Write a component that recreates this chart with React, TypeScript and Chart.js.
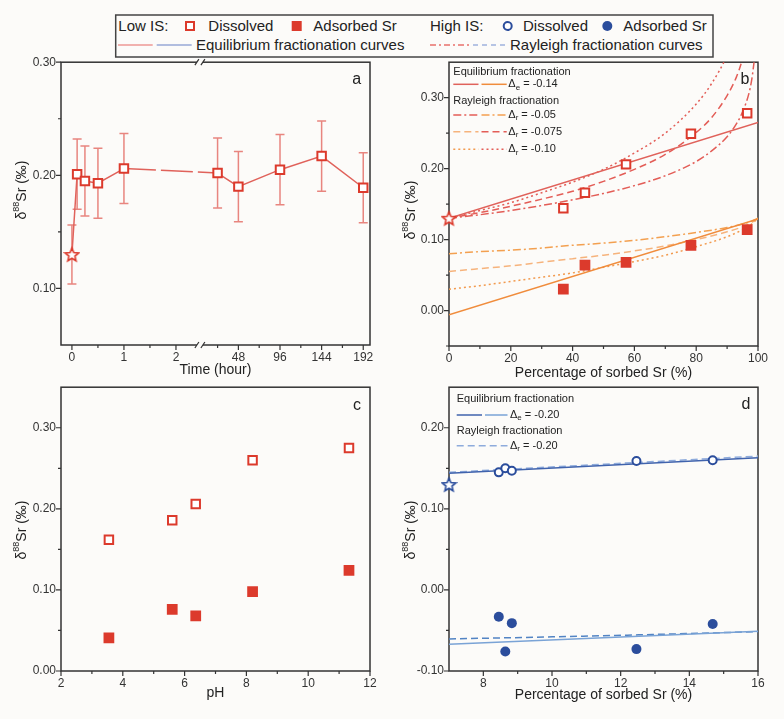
import React, { useEffect, useRef } from 'react';
import { Chart, registerables } from 'chart.js';

Chart.register(...registerables);

// ---------------- data: panel a (time series, low IS) ----------------
const timeHours = [0.1, 0.25, 0.5, 1, 24, 48, 96, 144, 192];
const timeDissolved = [0.201, 0.195, 0.193, 0.206, 0.202, 0.19, 0.205, 0.217, 0.189];
const timeErrors = [0.031, 0.031, 0.031, 0.031, 0.031, 0.031, 0.031, 0.031, 0.031];
const initialDelta = 0.13;
const initialError = 0.026;
const timeTickHours = [0, 1, 2, 48, 96, 144, 192];
const timeTickLabels = ['0', '1', '2', '48', '96', '144', '192'];
const timeMinorHours = [0.5, 1.5, 24, 72, 120, 168];

// ---------------- data: panel b (low IS vs % sorbed) ----------------
const sorbedPctB = [37.0, 44.0, 57.3, 78.3, 96.5];
const dissolvedLowIS = [0.144, 0.166, 0.206, 0.249, 0.278];
const adsorbedLowIS = [0.03, 0.064, 0.068, 0.092, 0.114];
const eqX = [0, 100];
const eqDissolvedB = [0.13, 0.265];
const eqAdsorbedB = [-0.006, 0.129];
const rayDissX = [0, 10, 20, 30, 40, 50, 60, 70, 80, 85, 90, 93, 95, 97, 98, 99];
const rayDiss005 = [0.13, 0.135, 0.141, 0.148, 0.156, 0.165, 0.176, 0.19, 0.21, 0.225, 0.245, 0.263, 0.28, 0.305, 0.326, 0.36];
const rayDiss0075 = [0.13, 0.138, 0.147, 0.157, 0.168, 0.182, 0.199, 0.22, 0.251, 0.272, 0.303, 0.329, 0.355, 0.393, 0.423, 0.475];
const rayDiss010 = [0.13, 0.141, 0.152, 0.166, 0.181, 0.199, 0.222, 0.25, 0.291, 0.32, 0.36, 0.396, 0.43, 0.481, 0.521, 0.591];
const rayAdsX = [0, 10, 20, 30, 40, 50, 60, 70, 80, 90, 95, 98, 100];
const rayAds005 = [0.08, 0.083, 0.085, 0.088, 0.092, 0.095, 0.099, 0.104, 0.11, 0.117, 0.122, 0.126, 0.13];
const rayAds0075 = [0.055, 0.059, 0.063, 0.068, 0.073, 0.078, 0.084, 0.091, 0.1, 0.111, 0.118, 0.124, 0.13];
const rayAds010 = [0.03, 0.035, 0.041, 0.047, 0.053, 0.061, 0.069, 0.078, 0.09, 0.104, 0.114, 0.122, 0.13];

// ---------------- data: panel c (pH) ----------------
const phValues = [3.55, 5.6, 6.36, 8.2, 11.32];
const phDissolved = [0.162, 0.186, 0.206, 0.26, 0.275];
const phAdsorbed = [0.041, 0.076, 0.068, 0.098, 0.124];

// ---------------- data: panel d (high IS) ----------------
const sorbedPctD = [8.45, 8.64, 8.83, 12.46, 14.68];
const dissolvedHighIS = [0.145, 0.15, 0.147, 0.159, 0.16];
const adsorbedHighIS = [-0.033, -0.076, -0.041, -0.073, -0.042];
const initialPctD = 7;
const eqXD = [7, 16];
const eqDissolvedD = [0.144, 0.163];
const eqAdsorbedD = [-0.067, -0.051];
const rayXD = [7, 11.5, 16];
const rayDissolvedD = [0.145, 0.155, 0.165];
const rayAdsorbedD = [-0.0605, -0.0565, -0.0515];

// ---------------- styling ----------------
const FONT = '"Liberation Sans", Arial, Helvetica, sans-serif';
const BG = '#fcfbf9';
const AXIS = '#333333';
const TICK_COLOR = '#333333';
const RED = '#dc3a2c';
const RED_LINE = '#e0625b';
const RED_ERR = '#e8857f';
const RED_RAY = '#e35d57';
const ORANGE = '#f08c3c';
const ORANGE_DD = '#f3a050';
const ORANGE_DA = '#f6b37c';
const ORANGE_DOT = '#f29a4e';
const BLUE = '#2b4d9c';
const BLUE_EQ1 = '#4063ad';
const BLUE_EQ2 = '#7aa3d6';
const BLUE_RAY1 = '#8eabdc';
const BLUE_RAY2 = '#5284c4';

const DASHDOT = [8, 3, 2, 3];
const DASHED = [7, 4];
const DOTTED = [2, 3];

// x position on the broken time axis
const toAxis = (t: number) => (t <= 2 ? t : 3.2 + (t - 48) / 60);

type LegendRow =
  | { kind: 'text'; y: number; text: string }
  | {
      kind: 'sample';
      y: number;
      segs: { x0: number; x1: number; color: string; dash: number[] }[];
      labelX: number;
      sub: string;
      value: string;
    };

interface Decor {
  xMinor: number[];
  yMinor: number[];
  xTitle: string;
  xTitleY: number;
  yTitleX: number;
  yTitleY: number;
  letter: string;
  letterX: number;
  letterY: number;
  breakAt?: number;
  legend?: LegendRow[];
  legendX?: number;
  errors?: { datasetIndex: number; values: number[]; color: string };
}

function drawYTitle(ctx: CanvasRenderingContext2D, cx: number, cy: number) {
  ctx.save();
  ctx.translate(cx, cy);
  ctx.rotate(-Math.PI / 2);
  const big = `14px ${FONT}`;
  const small = `9px ${FONT}`;
  ctx.font = big;
  const w1 = ctx.measureText('δ').width;
  const w3 = ctx.measureText('Sr (‰)').width;
  ctx.font = small;
  const w2 = ctx.measureText('88').width;
  let x = -(w1 + w2 + w3) / 2;
  ctx.fillStyle = '#222';
  ctx.textBaseline = 'middle';
  ctx.textAlign = 'left';
  ctx.font = big;
  ctx.fillText('δ', x, 0);
  x += w1;
  ctx.font = small;
  ctx.fillText('88', x, -5);
  x += w2;
  ctx.font = big;
  ctx.fillText('Sr (‰)', x, 0);
  ctx.restore();
}

function decorPlugin(d: Decor) {
  return {
    id: 'decor',
    beforeDatasetsDraw(chart: any) {
      const { ctx, chartArea: a, scales } = chart;
      const xs = scales.x;
      const ys = scales.y;
      ctx.save();
      ctx.strokeStyle = AXIS;
      ctx.lineWidth = 1.5;
      ctx.strokeRect(a.left, a.top, a.right - a.left, a.bottom - a.top);
      ctx.lineWidth = 1.2;
      ctx.beginPath();
      xs.ticks.forEach((t: any) => {
        const p = xs.getPixelForValue(t.value);
        ctx.moveTo(p, a.bottom);
        ctx.lineTo(p, a.bottom + 5);
      });
      d.xMinor.forEach((v) => {
        const p = xs.getPixelForValue(v);
        ctx.moveTo(p, a.bottom);
        ctx.lineTo(p, a.bottom + 3);
      });
      ys.ticks.forEach((t: any) => {
        const p = ys.getPixelForValue(t.value);
        ctx.moveTo(a.left, p);
        ctx.lineTo(a.left - 5, p);
      });
      d.yMinor.forEach((v) => {
        const p = ys.getPixelForValue(v);
        ctx.moveTo(a.left, p);
        ctx.lineTo(a.left - 3, p);
      });
      ctx.stroke();

      if (d.breakAt !== undefined) {
        const p = xs.getPixelForValue(d.breakAt);
        [a.top, a.bottom].forEach((yy: number) => {
          ctx.fillStyle = BG;
          ctx.fillRect(p - 3, yy - 2, 6, 4);
          ctx.strokeStyle = AXIS;
          ctx.lineWidth = 1.2;
          ctx.beginPath();
          ctx.moveTo(p - 5, yy + 3);
          ctx.lineTo(p - 1, yy - 3);
          ctx.moveTo(p + 1, yy + 3);
          ctx.lineTo(p + 5, yy - 3);
          ctx.stroke();
        });
      }

      if (d.errors) {
        const ds = chart.data.datasets[d.errors.datasetIndex];
        ctx.strokeStyle = d.errors.color;
        ctx.lineWidth = 1.5;
        ctx.beginPath();
        ds.data.forEach((pt: any, i: number) => {
          const e = d.errors!.values[i];
          const px = xs.getPixelForValue(pt.x);
          const y0 = ys.getPixelForValue(pt.y - e);
          const y1 = ys.getPixelForValue(pt.y + e);
          ctx.moveTo(px, y0);
          ctx.lineTo(px, y1);
          ctx.moveTo(px - 4.5, y0);
          ctx.lineTo(px + 4.5, y0);
          ctx.moveTo(px - 4.5, y1);
          ctx.lineTo(px + 4.5, y1);
        });
        ctx.stroke();
      }
      ctx.restore();
    },
    afterDraw(chart: any) {
      const { ctx, chartArea: a } = chart;
      ctx.save();
      ctx.fillStyle = '#222';
      ctx.textAlign = 'center';
      ctx.textBaseline = 'middle';
      ctx.font = `14px ${FONT}`;
      ctx.fillText(d.xTitle, (a.left + a.right) / 2, d.xTitleY);
      ctx.font = `16px ${FONT}`;
      ctx.fillText(d.letter, d.letterX, d.letterY);
      drawYTitle(ctx, d.yTitleX, d.yTitleY);

      if (d.legend) {
        const lx = d.legendX || 0;
        d.legend.forEach((row) => {
          if (row.kind === 'text') {
            ctx.font = `11px ${FONT}`;
            ctx.textAlign = 'left';
            ctx.fillStyle = '#222';
            ctx.fillText(row.text, lx, row.y);
          } else {
            ctx.lineWidth = 1.5;
            row.segs.forEach((s) => {
              ctx.strokeStyle = s.color;
              ctx.setLineDash(s.dash);
              ctx.beginPath();
              ctx.moveTo(s.x0, row.y);
              ctx.lineTo(s.x1, row.y);
              ctx.stroke();
            });
            ctx.setLineDash([]);
            ctx.fillStyle = '#222';
            ctx.textAlign = 'left';
            let x = row.labelX;
            ctx.font = `11px ${FONT}`;
            ctx.fillText('Δ', x, row.y);
            x += ctx.measureText('Δ').width;
            ctx.font = `8px ${FONT}`;
            ctx.fillText(row.sub, x, row.y + 3);
            x += ctx.measureText(row.sub).width;
            ctx.font = `11px ${FONT}`;
            ctx.fillText(row.value, x, row.y);
          }
        });
      }
      ctx.restore();
    },
  };
}

function linAxis(o: {
  min: number;
  max: number;
  ticks: number[];
  fmt: (v: number, i: number) => string;
  size: number;
  vertical: boolean;
  pad: number;
}) {
  return {
    type: 'linear' as const,
    min: o.min,
    max: o.max,
    grid: { display: false, drawTicks: false },
    border: { display: false },
    ticks: {
      color: TICK_COLOR,
      font: { family: FONT, size: 12 },
      padding: o.pad,
      autoSkip: false,
      maxRotation: 0,
      minRotation: 0,
      callback: (v: any, i: number) => o.fmt(Number(v), i),
    },
    afterBuildTicks: (s: any) => {
      s.ticks = o.ticks.map((v) => ({ value: v }));
    },
    afterFit: (s: any) => {
      if (o.vertical) s.width = o.size;
      else s.height = o.size;
    },
  };
}

const fmt2 = (v: number) => v.toFixed(2);
const fmt0 = (v: number) => String(Math.round(v));

function lineDs(xs: number[], ys: number[], color: string, dash: number[], width = 1.5) {
  return {
    data: xs.map((x, i) => ({ x, y: ys[i] })),
    showLine: true,
    borderColor: color,
    borderWidth: width,
    borderDash: dash,
    pointRadius: 0,
    fill: false,
    cubicInterpolationMode: 'monotone',
    order: 5,
  };
}

function markerDs(xs: number[], ys: number[], style: any, radius: number, fill: string, border: string, bw: number) {
  return {
    data: xs.map((x, i) => ({ x, y: ys[i] })),
    showLine: false,
    pointStyle: style,
    pointRadius: radius,
    pointBackgroundColor: fill,
    pointBorderColor: border,
    pointBorderWidth: bw,
    order: 1,
  };
}

function makeStar(color: string, size: number) {
  const c = document.createElement('canvas');
  c.width = size;
  c.height = size;
  const g = c.getContext('2d')!;
  const cx = size / 2;
  const cy = size / 2 + 0.6;
  const R = size / 2 - 1.5;
  const r = R * 0.45;
  g.beginPath();
  for (let i = 0; i < 10; i++) {
    const ang = -Math.PI / 2 + (i * Math.PI) / 5;
    const rad = i % 2 === 0 ? R : r;
    g.lineTo(cx + rad * Math.cos(ang), cy + rad * Math.sin(ang));
  }
  g.closePath();
  g.fillStyle = '#ffffff';
  g.fill();
  g.lineWidth = 1.6;
  g.strokeStyle = color;
  g.stroke();
  return c;
}

const baseOptions = (padding: any, scales: any) => ({
  responsive: false,
  animation: false as const,
  events: [] as any[],
  layout: { padding },
  plugins: { legend: { display: false }, tooltip: { enabled: false } },
  scales,
});

function buildA(): any {
  const star = makeStar(RED, 17);
  const pts = [{ x: toAxis(0), y: initialDelta }, ...timeHours.map((t, i) => ({ x: toAxis(t), y: timeDissolved[i] }))];
  const errs = [initialError, ...timeErrors];
  const styles: any[] = [star, ...timeHours.map(() => 'rect')];
  return {
    type: 'scatter',
    data: {
      datasets: [
        {
          data: pts,
          showLine: true,
          borderColor: RED_LINE,
          borderWidth: 1.5,
          pointStyle: styles,
          pointRadius: 6,
          pointBackgroundColor: '#ffffff',
          pointBorderColor: RED,
          pointBorderWidth: 2,
          segment: { borderDash: (c: any) => (c.p0DataIndex === 4 ? [32, 5] : undefined) },
        },
      ],
    },
    options: baseOptions(
      { top: 12, right: 20, bottom: 0, left: 0 },
      {
        x: linAxis({
          min: -0.21,
          max: 5.73,
          ticks: timeTickHours.map(toAxis),
          fmt: (_v, i) => timeTickLabels[i],
          size: 35,
          vertical: false,
          pad: 5,
        }),
        y: linAxis({ min: 0.05, max: 0.3, ticks: [0.1, 0.2, 0.3], fmt: fmt2, size: 61, vertical: true, pad: 5 }),
      }
    ),
    plugins: [
      decorPlugin({
        xMinor: timeMinorHours.map(toAxis),
        yMinor: [0.15, 0.25],
        xTitle: 'Time (hour)',
        xTitleY: 320.5,
        yTitleX: 22,
        yTitleY: 140,
        letter: 'a',
        letterX: 356.7,
        letterY: 30,
        breakAt: 2.46,
        errors: { datasetIndex: 0, values: errs, color: RED_ERR },
      }),
    ],
  };
}

function buildB(): any {
  const star = makeStar(RED, 17);
  return {
    type: 'scatter',
    data: {
      datasets: [
        { ...markerDs([0], [initialDelta], star, 8, '#fff', RED, 1), order: 0, clip: false },
        markerDs(sorbedPctB, dissolvedLowIS, 'rect', 6, '#ffffff', RED, 2),
        markerDs(sorbedPctB, adsorbedLowIS, 'rect', 7.6, RED, RED, 0),
        lineDs(eqX, eqDissolvedB, RED_LINE, []),
        lineDs(eqX, eqAdsorbedB, ORANGE, []),
        lineDs(rayDissX, rayDiss005, RED_RAY, DASHDOT),
        lineDs(rayDissX, rayDiss0075, RED_RAY, DASHED),
        lineDs(rayDissX, rayDiss010, RED_RAY, DOTTED),
        lineDs(rayAdsX, rayAds005, ORANGE_DD, DASHDOT),
        lineDs(rayAdsX, rayAds0075, ORANGE_DA, DASHED),
        lineDs(rayAdsX, rayAds010, ORANGE_DOT, DOTTED),
      ],
    },
    options: baseOptions(
      { top: 12, right: 26, bottom: 0, left: 0 },
      {
        x: linAxis({ min: 0, max: 100, ticks: [0, 20, 40, 60, 80, 100], fmt: fmt0, size: 34, vertical: false, pad: 5 }),
        y: linAxis({ min: -0.05, max: 0.35, ticks: [0, 0.1, 0.2, 0.3], fmt: fmt2, size: 59, vertical: true, pad: 5 }),
      }
    ),
    plugins: [
      decorPlugin({
        xMinor: [10, 30, 50, 70, 90],
        yMinor: [-0.05, 0.05, 0.15, 0.25],
        xTitle: 'Percentage of sorbed Sr (%)',
        xTitleY: 322.7,
        yTitleX: 21,
        yTitleY: 160,
        letter: 'b',
        letterX: 355,
        letterY: 30,
        legendX: 63.3,
        legend: [
          { kind: 'text', y: 21.7, text: 'Equilibrium fractionation' },
          {
            kind: 'sample',
            y: 34.3,
            segs: [
              { x0: 63.3, x1: 88.5, color: RED_LINE, dash: [] },
              { x0: 91.5, x1: 116.7, color: ORANGE, dash: [] },
            ],
            labelX: 118.3,
            sub: 'e',
            value: ' = -0.14',
          },
          { kind: 'text', y: 51, text: 'Rayleigh fractionation' },
          {
            kind: 'sample',
            y: 65,
            segs: [
              { x0: 63.3, x1: 88.5, color: RED_RAY, dash: DASHDOT },
              { x0: 91.5, x1: 116.7, color: ORANGE_DD, dash: DASHDOT },
            ],
            labelX: 118.3,
            sub: 'r',
            value: ' = -0.05',
          },
          {
            kind: 'sample',
            y: 81.7,
            segs: [
              { x0: 63.3, x1: 88.5, color: ORANGE_DA, dash: DASHED },
              { x0: 91.5, x1: 116.7, color: RED_RAY, dash: DASHED },
            ],
            labelX: 118.3,
            sub: 'r',
            value: ' = -0.075',
          },
          {
            kind: 'sample',
            y: 99.3,
            segs: [
              { x0: 63.3, x1: 88.5, color: ORANGE_DOT, dash: DOTTED },
              { x0: 91.5, x1: 116.7, color: RED_RAY, dash: DOTTED },
            ],
            labelX: 118.3,
            sub: 'r',
            value: ' = -0.10',
          },
        ],
      }),
    ],
  };
}

function buildC(): any {
  return {
    type: 'scatter',
    data: {
      datasets: [
        markerDs(phValues, phDissolved, 'rect', 6, '#ffffff', RED, 2),
        markerDs(phValues, phAdsorbed, 'rect', 7.6, RED, RED, 0),
      ],
    },
    options: baseOptions(
      { top: 12, right: 20, bottom: 0, left: 0 },
      {
        x: linAxis({ min: 2, max: 12, ticks: [2, 4, 6, 8, 10, 12], fmt: fmt0, size: 48, vertical: false, pad: 5 }),
        y: linAxis({ min: 0, max: 0.35, ticks: [0, 0.1, 0.2, 0.3], fmt: fmt2, size: 61, vertical: true, pad: 5 }),
      }
    ),
    plugins: [
      decorPlugin({
        xMinor: [3, 5, 7, 9, 11],
        yMinor: [0.05, 0.15, 0.25],
        xTitle: 'pH',
        xTitleY: 317.7,
        yTitleX: 22,
        yTitleY: 155,
        letter: 'c',
        letterX: 357,
        letterY: 31,
      }),
    ],
  };
}

function buildD(): any {
  const star = makeStar(BLUE, 17);
  return {
    type: 'scatter',
    data: {
      datasets: [
        { ...markerDs([initialPctD], [initialDelta], star, 8, '#fff', BLUE, 1), order: 0, clip: false },
        markerDs(sorbedPctD, dissolvedHighIS, 'circle', 4, '#ffffff', BLUE, 2),
        markerDs(sorbedPctD, adsorbedHighIS, 'circle', 5, BLUE, BLUE, 0),
        lineDs(eqXD, eqDissolvedD, BLUE_EQ1, []),
        lineDs(rayXD, rayDissolvedD, BLUE_RAY1, DASHED),
        lineDs(eqXD, eqAdsorbedD, BLUE_EQ2, []),
        lineDs(rayXD, rayAdsorbedD, BLUE_RAY2, DASHED),
      ],
    },
    options: baseOptions(
      { top: 12, right: 26, bottom: 0, left: 0 },
      {
        x: linAxis({ min: 7, max: 16, ticks: [8, 10, 12, 14, 16], fmt: fmt0, size: 48, vertical: false, pad: 5 }),
        y: linAxis({ min: -0.1, max: 0.25, ticks: [-0.1, 0, 0.1, 0.2], fmt: fmt2, size: 59, vertical: true, pad: 5 }),
      }
    ),
    plugins: [
      decorPlugin({
        xMinor: [9, 11, 13, 15],
        yMinor: [-0.05, 0.05, 0.15],
        xTitle: 'Percentage of sorbed Sr (%)',
        xTitleY: 320,
        yTitleX: 21,
        yTitleY: 155,
        letter: 'd',
        letterX: 356,
        letterY: 30,
        legendX: 66.7,
        legend: [
          { kind: 'text', y: 24.3, text: 'Equilibrium fractionation' },
          {
            kind: 'sample',
            y: 40,
            segs: [
              { x0: 66.7, x1: 92, color: BLUE_EQ1, dash: [] },
              { x0: 95, x1: 117.5, color: BLUE_EQ2, dash: [] },
            ],
            labelX: 120,
            sub: 'e',
            value: ' = -0.20',
          },
          { kind: 'text', y: 55.7, text: 'Rayleigh fractionation' },
          {
            kind: 'sample',
            y: 70.7,
            segs: [{ x0: 66.7, x1: 117.5, color: BLUE_RAY1, dash: DASHED }],
            labelX: 120,
            sub: 'r',
            value: ' = -0.20',
          },
        ],
      }),
    ],
  };
}

function Panel(props: { left: number; top: number; width: number; height: number; build: () => any }) {
  const ref = useRef<HTMLCanvasElement>(null);
  useEffect(() => {
    const chart = new Chart(ref.current as HTMLCanvasElement, props.build());
    return () => chart.destroy();
  }, []);
  return (
    <canvas
      ref={ref}
      width={props.width}
      height={props.height}
      style={{ position: 'absolute', left: props.left, top: props.top, width: props.width, height: props.height }}
    />
  );
}

const legendText: React.CSSProperties = {
  position: 'absolute',
  fontFamily: FONT,
  fontSize: 15,
  lineHeight: '18px',
  color: '#222',
  whiteSpace: 'nowrap',
};

function TopLegend() {
  return (
    <>
      <svg width={784} height={60} style={{ position: 'absolute', left: 0, top: 0 }}>
        <rect x={115.7} y={15} width={597.3} height={42} fill="none" stroke="#444" strokeWidth={1.5} />
        <rect x={186} y={22} width={8} height={8} fill="#fff" stroke={RED} strokeWidth={2} />
        <rect x={291.7} y={21} width={10} height={10} fill={RED} />
        <circle cx={507.7} cy={26} r={4} fill="#fff" stroke={BLUE} strokeWidth={2} />
        <circle cx={607.3} cy={26} r={5} fill={BLUE} />
        <line x1={118} y1={45} x2={152.7} y2={45} stroke="#ee9995" strokeWidth={1.5} />
        <line x1={156.7} y1={45} x2={191.7} y2={45} stroke="#98a9d6" strokeWidth={1.5} />
        <line x1={430} y1={45} x2={470} y2={45} stroke="#e8716c" strokeWidth={1.5} strokeDasharray="6 3 2 3" />
        <line x1={473} y1={45} x2={507} y2={45} stroke="#9fb3dd" strokeWidth={1.5} strokeDasharray="5 4" />
      </svg>
      <span style={{ ...legendText, left: 118.3, top: 17 }}>Low IS:</span>
      <span style={{ ...legendText, left: 208.3, top: 17 }}>Dissolved</span>
      <span style={{ ...legendText, left: 313.3, top: 17 }}>Adsorbed Sr</span>
      <span style={{ ...legendText, left: 430, top: 17 }}>High IS:</span>
      <span style={{ ...legendText, left: 523, top: 17 }}>Dissolved</span>
      <span style={{ ...legendText, left: 623.3, top: 17 }}>Adsorbed Sr</span>
      <span style={{ ...legendText, left: 196, top: 36 }}>Equilibrium fractionation curves</span>
      <span style={{ ...legendText, left: 510, top: 36 }}>Rayleigh fractionation curves</span>
    </>
  );
}

export default function App() {
  return (
    <div
      style={{
        position: 'absolute',
        left: 0,
        top: 0,
        width: 784,
        height: 719,
        background: BG,
        overflow: 'hidden',
      }}
    >
      <TopLegend />
      <Panel left={0} top={50} width={390} height={330} build={buildA} />
      <Panel left={390} top={50} width={394} height={330} build={buildB} />
      <Panel left={0} top={375} width={390} height={344} build={buildC} />
      <Panel left={390} top={375} width={394} height={344} build={buildD} />
    </div>
  );
}
